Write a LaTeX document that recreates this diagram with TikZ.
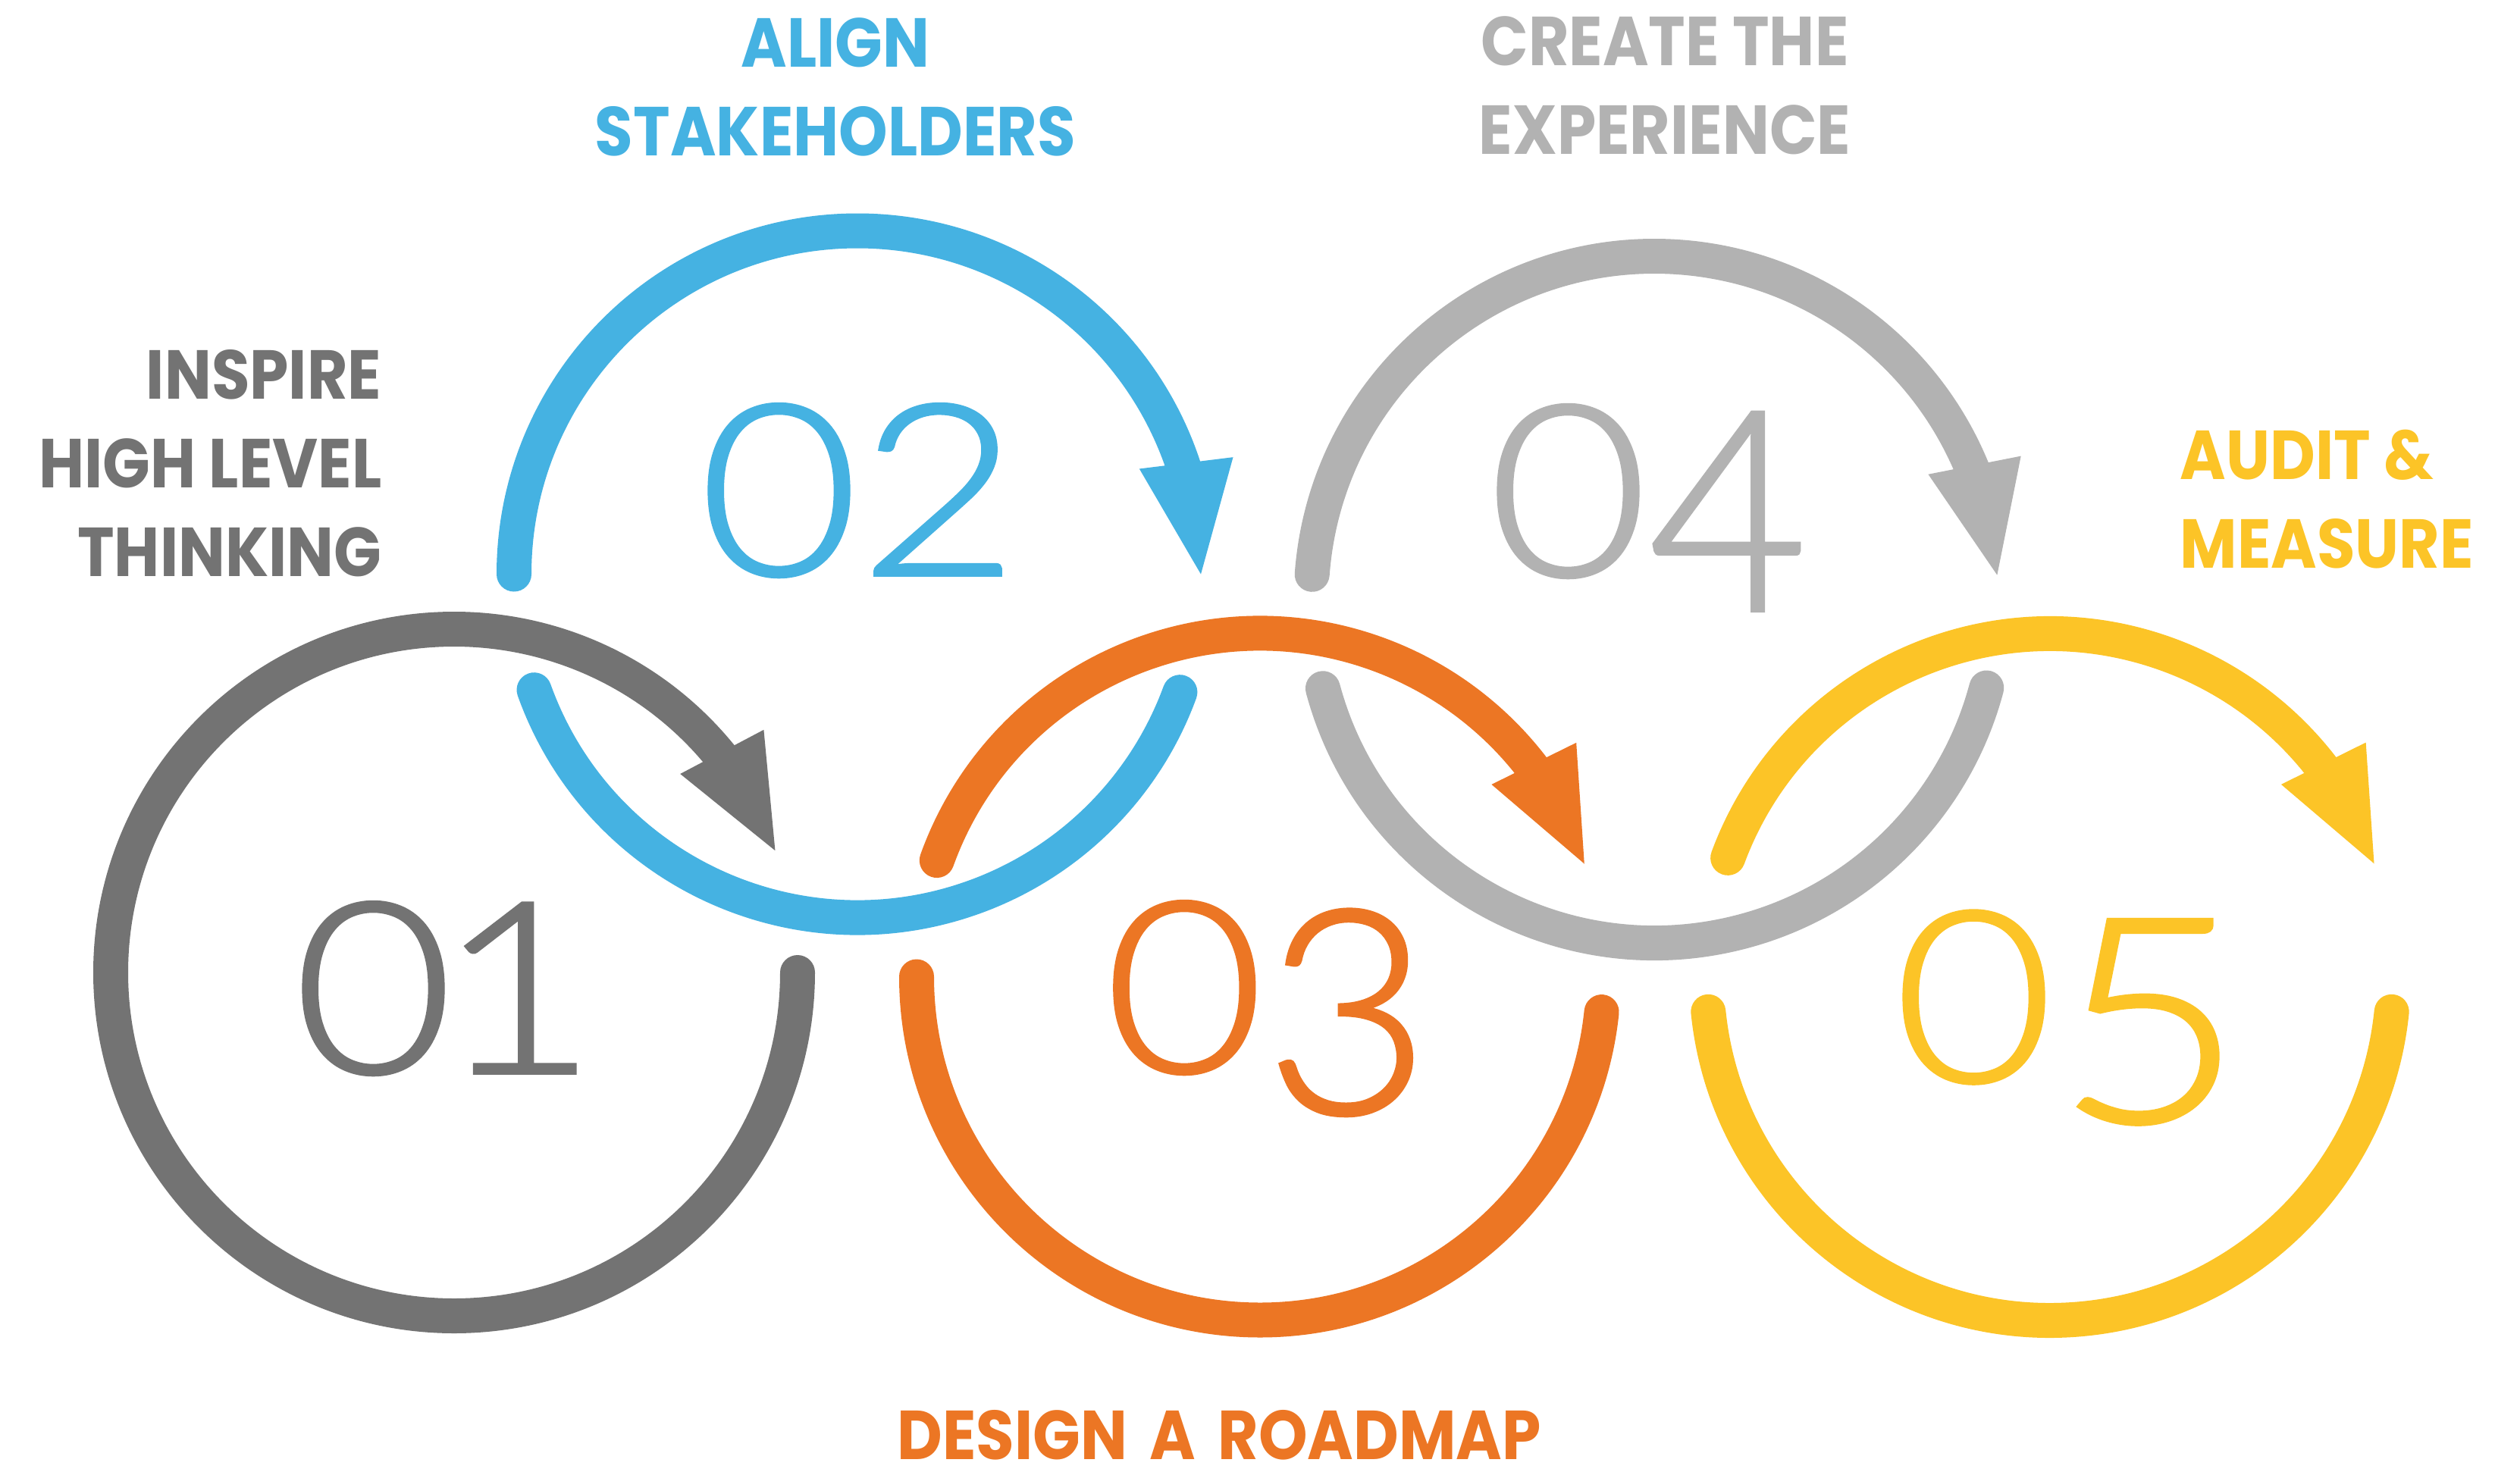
\documentclass[tikz,border=0pt]{standalone}
\usepackage{graphicx}
\usepackage{fontspec}
\setmainfont{Poppins}
\newfontfamily\labelfont[FakeStretch=0.9]{Poppins}
\newfontfamily\numfont[FakeStretch=1.15,FakeBold=1.2]{Lato Light}
\usetikzlibrary{calc}

\definecolor{cA}{HTML}{737373}
\definecolor{cB}{HTML}{45B2E2}
\definecolor{cC}{HTML}{EC7624}
\definecolor{cD}{HTML}{B2B2B2}
\definecolor{cE}{HTML}{FCC427}

% arrow head on a ring: #1 centre, #2 angle of the tip, #3 colour
\newcommand\ringhead[3]{%
  \fill[#3] ($(#1)+(#2:4.53)$) -- ($(#1)+({#2+20.5}:3.97)$)
            -- ($(#1)+({#2+17.3}:5.19)$) -- cycle;}
% digit that hangs below the baseline: #1 digit, #2 drop, #3 height scale, #4 width scale
\newcommand\lowdigit[4]{\raisebox{#2}{\scalebox{#4}[#3]{#1}}}

\begin{document}
\begin{tikzpicture}[
  ring/.style={line width=0.46cm, line cap=round},
  lbl/.style={inner sep=0pt, font=\labelfont\bfseries\fontsize{26}{33.3}\selectfont},
  num/.style={inner sep=0pt, anchor=base, font=\numfont\fontsize{90}{90}\selectfont},
]
\useasboundingbox (0,0) rectangle (33.24,-19.42);
\fill[white] (0,0) rectangle (33.24,-19.42);

% ring centres
\coordinate (c1) at (5.99,-12.83);
\coordinate (c2) at (11.31,-7.575);
\coordinate (c3) at (16.62,-12.885);
\coordinate (c4) at (21.825,-7.91);
\coordinate (c5) at (27.04,-12.89);

% ring 01
\draw[ring, cA] ($(c1)+(0:4.53)$) arc[start angle=0, end angle=-321.7, radius=4.53];
\ringhead{c1}{20.8}{cA}

% ring 02
\draw[ring, cB] ($(c2)+(180:4.53)$) arc[start angle=180, end angle=17.5, radius=4.53];
\ringhead{c2}{0}{cB}
\draw[ring, cB] ($(c2)+(199.7:4.53)$) arc[start angle=199.7, end angle=339.9, radius=4.53];

% ring 03
\draw[ring, cC] ($(c3)+(160.2:4.53)$) arc[start angle=160.2, end angle=36.7, radius=4.53];
\ringhead{c3}{19.2}{cC}
\draw[ring, cC] ($(c3)+(180:4.53)$) arc[start angle=180, end angle=354.1, radius=4.53];

% ring 04
\draw[ring, cD] ($(c4)+(175.8:4.53)$) arc[start angle=175.8, end angle=21.6, radius=4.53];
\ringhead{c4}{4.1}{cD}
\draw[ring, cD] ($(c4)+(195:4.53)$) arc[start angle=195, end angle=345.1, radius=4.53];

% ring 05
\draw[ring, cE] ($(c5)+(159.7:4.53)$) arc[start angle=159.7, end angle=36.8, radius=4.53];
\ringhead{c5}{19.3}{cE}
\draw[ring, cE] ($(c5)+(185.8:4.53)$) arc[start angle=185.8, end angle=354.2, radius=4.53];

% step numbers
\node[num, text=cA] (n1) at (5.875,-14.16) {0\hspace{-0.21cm}1};
\node[num, text=cB] (n2) at (11.33,-7.59) {02};
\node[num, text=cC] (n3) at (16.72,-14.15) {0\lowdigit{3}{-0.54cm}{1.19}{1.04}};
\node[num, text=cD] (n4) at (21.74,-7.60) {0\lowdigit{4}{-0.46cm}{1.17}{1}};
\node[num, text=cE] (n5) at (27.29,-14.275) {0\hspace{0.02cm}\lowdigit{5}{-0.53cm}{1.195}{1.18}};

% step titles
\node[lbl, text=cA, align=right, anchor=north east] (t1) at (5.04,-4.61)
  {INSPIRE\\HIGH LEVEL\\THINKING};
\node[lbl, text=cB, align=center, anchor=north] (t2) at (11.02,-0.23)
  {ALIGN\\STAKEHOLDERS};
\node[lbl, text=cC, anchor=north, text depth=0pt] (t3) at (16.08,-18.60)
  {DESIGN\hspace{0.12cm} A\hspace{0.12cm} ROADMAP};
\node[lbl, text=cD, align=center, anchor=north] (t4) at (21.96,-0.21)
  {CREATE THE\\EXPERIENCE};
\node[lbl, text=cE, align=left, anchor=north west] (t5) at (28.75,-5.66)
  {AUDIT \&\\MEASURE};
\end{tikzpicture}
\end{document}
